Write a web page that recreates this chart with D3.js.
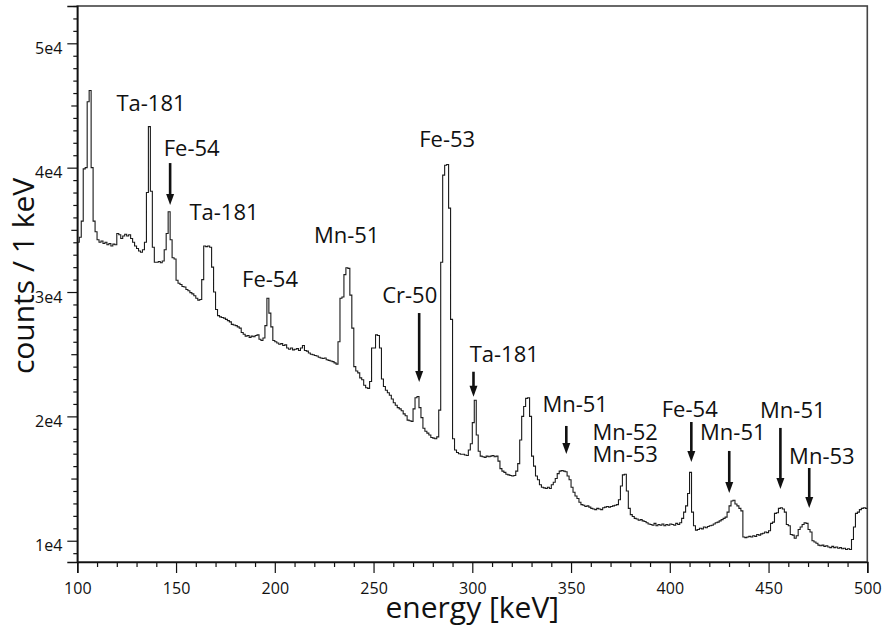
<!DOCTYPE html>
<html>
<head>
<meta charset="utf-8">
<script src="https://cdn.jsdelivr.net/npm/d3@7"></script>
<style>
  html, body { margin: 0; padding: 0; background: #fff; }
  svg { display: block; }
  text { font-family: "Open Sans", "Noto Sans", sans-serif; fill: #111; }
</style>
</head>
<body>
<svg id="chart" width="882" height="627"></svg>
<script>
// Gamma spectrum, counts per 1 keV bin, bins starting at 100 keV
const binStart = 100;
const binWidth = 1;
const counts = [
  34000, 34400, 35700, 39900, 40000, 45300, 46200, 40000, 35700, 34850,
  34200, 34000, 34100, 33900, 34000, 33800, 33900, 33700, 33850, 33800,
  34700, 34600, 34300, 34500, 34650, 34500, 34600, 34300, 34000, 33700,
  33500, 33300, 33200, 33400, 34000, 38000, 43300, 38100, 33600, 32400,
  32400, 32450, 32350, 32500, 33400, 34700, 36450, 34200, 32750, 32650,
  30950, 30700, 30600, 30450, 30400, 30200, 30100, 29950, 29850, 29700,
  29500, 29350, 29400, 31000, 33700, 33650, 33700, 33600, 32000, 30000,
  28600, 28100, 28000, 27950, 27900, 27800, 27700, 27600, 27400, 27350,
  27300, 27200, 27100, 26750, 26600, 26450, 26500, 26350, 26450, 26400,
  26500, 26550, 26200, 26100, 26300, 27300, 29500, 28300, 27200, 26100,
  26000, 25900, 25800, 25850, 25700, 25750, 25500, 25400, 25500, 25350,
  25400, 25450, 25300, 25500, 25700, 25300, 25250, 25100, 25000, 24950,
  24900, 24850, 24750, 24700, 24650, 24700, 24550, 24500, 24450, 24400,
  24300, 24200, 26000, 29500, 29600, 31400, 31950, 31900, 29750, 27100,
  24000, 23650, 23500, 23100, 22950, 22500, 22300, 22250, 22800, 25500,
  25500, 26550, 26500, 25500, 23000, 22400, 22100, 21900, 21700, 21400,
  21100, 20900, 20700, 20600, 20450, 20200, 20050, 19700, 19650, 19600,
  20600, 21500, 21600, 20700, 19900, 19050, 18800, 18650, 18500, 18300,
  18250, 18200, 18350, 20500, 32400, 39400, 40200, 40250, 36750, 27800,
  18200, 17300, 17100, 17000, 16950, 16950, 16900, 16850, 17300, 17800,
  19500, 21300, 18500, 17200, 16800, 16750, 16700, 16800, 16750, 16800,
  16850, 16750, 16800, 16400, 15800, 15600, 15500, 15350, 15300, 15250,
  15200, 15250, 15600, 16200, 18100, 20000, 20800, 21450, 21500, 20000,
  16800, 16000, 15200, 14900, 14500, 14300, 14250, 14200, 14300, 14200,
  14500, 14700, 15000, 15400, 15600, 15650, 15600, 15550, 15200, 14900,
  14300, 13900, 13600, 13400, 13100, 12900, 12850, 12750, 12800, 12700,
  12600, 12550, 12500, 12600, 12550, 12500, 12650, 12700, 12750, 12700,
  12750, 12800, 12850, 12900, 13300, 14400, 15300, 15350, 14000, 12600,
  12100, 11950, 11800, 11750, 11650, 11700, 11600, 11550, 11450, 11350,
  11300, 11250, 11400, 11200, 11300, 11250, 11350, 11200, 11300, 11250,
  11350, 11300, 11250, 11400, 11300, 11450, 11800, 12300, 12800, 13800,
  15500, 12300, 11200, 10850, 10900, 11000, 10950, 11100, 11050, 11150,
  11200, 11250, 11350, 11450, 11500, 11600, 11700, 11800, 11900, 12300,
  12800, 13200, 13250, 12950, 12800, 12600, 12400, 10300, 10250, 10300,
  10350, 10300, 10400, 10350, 10500, 10450, 10550, 10600, 10700, 10650,
  10800, 11400, 11500, 12200, 12250, 12600, 12650, 12550, 12300, 11300,
  11200, 10500, 10450, 10200, 10400, 10900, 11100, 11300, 11450, 11400,
  10900, 10700, 10000, 9900, 9800, 9650, 9600, 9650, 9550, 9600,
  9500, 9450, 9550, 9450, 9500, 9400, 9450, 9350, 9400, 9300,
  9350, 9300, 10100, 11100, 12200, 12300, 12500, 12600, 12650, 12600
];

// Axis ticks
const xTicks = [100, 150, 200, 250, 300, 350, 400, 450, 500];
const yTicks = [10000, 20000, 30000, 40000, 50000];
const yTickLabels = ["1e4", "2e4", "3e4", "4e4", "5e4"];
const energyDomain = [100, 500];
const countDomain = [8290, 53000];

// Line identifications (label centre in keV, first baseline in counts);
// multi-line labels use "\n"
const labelTexts  = ["Ta-181", "Fe-54", "Ta-181", "Fe-54", "Mn-51", "Cr-50", "Fe-53", "Ta-181",
                     "Mn-51", "Mn-52\nMn-53", "Fe-54", "Mn-51", "Mn-51", "Mn-53"];
const labelEnergy = [137.3, 157.9, 174.3, 197.6, 236.4, 268.3, 287.3, 316.2,
                     352.1, 377.4, 410.1, 431.9, 462.3, 477.0];
const labelCounts = [44560, 40940, 35790, 30400, 33940, 29120, 41660, 24350,
                     20380, 18100, 19950, 18100, 19870, 16170];

// Arrows pointing at the weaker lines (energy, start count, tip count)
const arrowEnergy = [147.0, 273.1, 300.6, 347.6, 410.9, 430.1, 456.0, 470.6];
const arrowFrom   = [40370, 28310, 23590, 19230, 19550, 17220, 19070, 15850];
const arrowTo     = [36990, 22760, 21580, 16970, 16330, 13840, 14160, 12630];

const svg = d3.select("#chart");
const plot = { left: 77.3, right: 867.3, top: 6, bottom: 562 };

const x = d3.scaleLinear().domain(energyDomain).range([plot.left, plot.right]);
const y = d3.scaleLinear().domain(countDomain).range([plot.bottom, plot.top]);

svg.append("rect").attr("width", 882).attr("height", 627).attr("fill", "#fff");

// Frame
svg.append("rect")
  .attr("x", plot.left).attr("y", plot.top)
  .attr("width", plot.right - plot.left).attr("height", plot.bottom - plot.top)
  .attr("fill", "none").attr("stroke", "#444").attr("stroke-width", 1.6);

// Histogram as a step line
const steps = counts.map((c, i) => [binStart + i * binWidth, c]);
steps.push([binStart + counts.length * binWidth, counts[counts.length - 1]]);
const stepLine = d3.line()
  .x(d => x(d[0]))
  .y(d => y(d[1]))
  .curve(d3.curveStepAfter);
svg.append("path")
  .datum(steps)
  .attr("d", stepLine)
  .attr("fill", "none")
  .attr("stroke", "#1a1a1a")
  .attr("stroke-width", 1.1)
  .attr("stroke-linejoin", "miter");

// X axis
const xMinor = d3.range(110, 500, 10).filter(v => v % 50 !== 0);
const gxMinor = svg.append("g").attr("transform", `translate(0,${plot.bottom})`)
  .call(d3.axisBottom(x).tickValues(xMinor).tickSize(5).tickFormat(""));
gxMinor.select(".domain").remove();
const gx = svg.append("g").attr("transform", `translate(0,${plot.bottom})`)
  .call(d3.axisBottom(x).tickValues(xTicks).tickSize(11).tickFormat(d3.format("d")));
gx.select(".domain").attr("stroke", "#111").attr("stroke-width", 1.6);
gx.selectAll("text").attr("y", 32).attr("dy", 0)
  .style("font-size", "16px").style("font-family", "'Open Sans', sans-serif").attr("fill", "#111");

// Y axis
const yMinor = d3.range(9000, 53001, 1000).filter(v => v % 5000 !== 0);
const yMid = [15000, 25000, 35000, 45000];
const gyMinor = svg.append("g").attr("transform", `translate(${plot.left},0)`)
  .call(d3.axisLeft(y).tickValues(yMinor).tickSize(4).tickFormat(""));
gyMinor.select(".domain").remove();
const gyMid = svg.append("g").attr("transform", `translate(${plot.left},0)`)
  .call(d3.axisLeft(y).tickValues(yMid).tickSize(6).tickFormat(""));
gyMid.select(".domain").remove();
const gy = svg.append("g").attr("transform", `translate(${plot.left},0)`)
  .call(d3.axisLeft(y).tickValues(yTicks).tickSize(10).tickPadding(5)
    .tickFormat((d, i) => yTickLabels[i]));
gy.select(".domain").attr("stroke", "#111").attr("stroke-width", 1.6);
gy.selectAll("text").attr("dy", 0).attr("y", 10)
  .style("font-size", "16px").style("font-family", "'Open Sans', sans-serif").attr("fill", "#111");
svg.selectAll(".tick line").attr("stroke", "#111").attr("stroke-width", 1.2);

// Axis titles
svg.append("text")
  .attr("x", (plot.left + plot.right) / 2).attr("y", 618)
  .attr("text-anchor", "middle")
  .style("font-size", "30px")
  .text("energy [keV]");
svg.append("text")
  .attr("transform", "translate(34,276) rotate(-90)")
  .attr("text-anchor", "middle")
  .style("font-size", "30px")
  .text("counts / 1 keV");

// Line labels
svg.append("g").selectAll("text")
  .data(labelTexts)
  .join("text")
  .attr("x", (d, i) => x(labelEnergy[i]))
  .attr("y", (d, i) => y(labelCounts[i]))
  .attr("text-anchor", "middle")
  .style("font-size", "22px")
  .each(function(d, i) {
    const t = d3.select(this);
    d.split("\n").forEach((line, k) => {
      t.append("tspan")
        .attr("x", x(labelEnergy[i]))
        .attr("dy", k === 0 ? 0 : 22)
        .text(line);
    });
  });

// Arrows
const headLen = 11, headHalf = 4;
const arrows = svg.append("g");
arrowEnergy.forEach((e, i) => {
  const ax = x(e), y0 = y(arrowFrom[i]), y1 = y(arrowTo[i]);
  arrows.append("line")
    .attr("x1", ax).attr("x2", ax)
    .attr("y1", y0).attr("y2", y1 - headLen + 1)
    .attr("stroke", "#111").attr("stroke-width", 2.6);
  arrows.append("path")
    .attr("d", `M${ax - headHalf},${y1 - headLen} L${ax + headHalf},${y1 - headLen} L${ax},${y1} Z`)
    .attr("fill", "#111");
});
</script>
</body>
</html>
